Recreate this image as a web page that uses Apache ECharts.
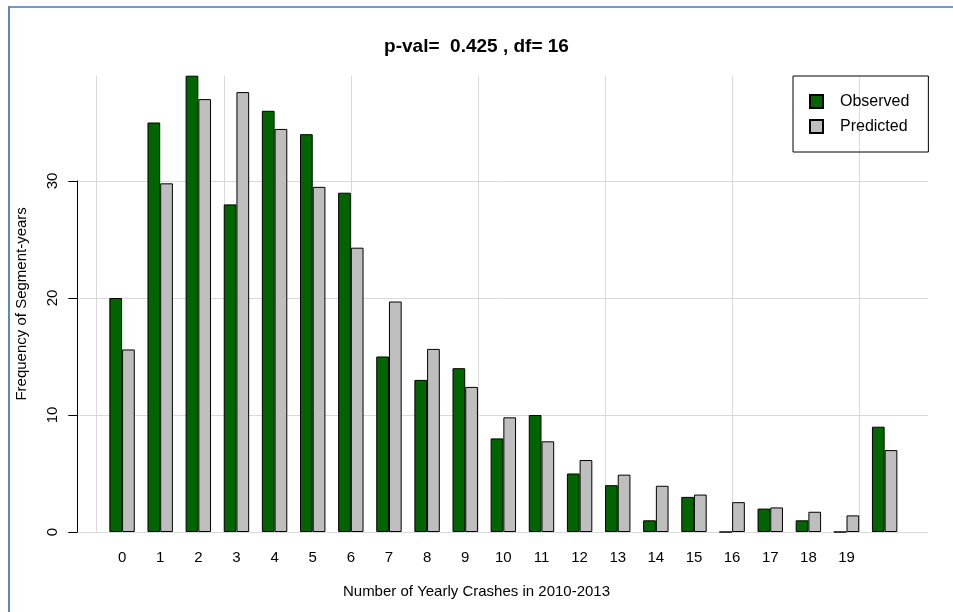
<!DOCTYPE html>
<html>
<head>
<meta charset="utf-8">
<script src="https://cdn.jsdelivr.net/npm/echarts@6/dist/echarts.min.js"></script>
<style>
html,body{margin:0;padding:0;background:#fff;}
#chart{width:953px;height:612px;}
</style>
</head>
<body>
<div id="chart"></div>
<script>
// ---- data ----
var categories = ['0','1','2','3','4','5','6','7','8','9','10','11','12','13','14','15','16','17','18','19',''];
var observed  = [20, 35, 39, 28, 36, 34, 29, 15, 13, 14, 8, 10, 5, 4, 1, 3, 0, 2, 1, 0, 9];
var predicted = [15.6, 29.8, 37.0, 37.6, 34.45, 29.5, 24.3, 19.7, 15.65, 12.4, 9.8, 7.75, 6.15, 4.9, 3.95, 3.2, 2.55, 2.1, 1.73, 1.42, 7.0];
var yTicks = [0, 10, 20, 30];
var titleText = 'p-val=  0.425 , df= 16';
var xTitle = 'Number of Yearly Crashes in 2010-2013';
var yTitle = 'Frequency of Segment-years';

var FONT = '"Liberation Sans", Arial, sans-serif';
var chart = echarts.init(document.getElementById('chart'), null, {renderer:'canvas'});
var gridColor = '#d9d9d9';
var option = {
  animation: false,
  backgroundColor: '#ffffff',
  textStyle: {fontFamily: FONT, color: '#000'},
  title: [
    {text: titleText, left: 'center', top: 32,
     textStyle: {fontFamily: FONT, fontSize: 19, fontWeight: 'bold', color: '#000'}},
    {text: xTitle, left: 'center', top: 579,
     textStyle: {fontFamily: FONT, fontSize: 15, fontWeight: 'normal', color: '#000'}}
  ],
  legend: {
    data: ['Observed', 'Predicted'],
    orient: 'vertical',
    left: 793, top: 76,
    padding: [17.5, 19, 17.5, 16],
    itemWidth: 13, itemHeight: 13, itemGap: 9,
    icon: 'rect',
    borderColor: '#000', borderWidth: 1,
    textStyle: {fontFamily: FONT, fontSize: 16, lineHeight: 16, color: '#000', padding: [0, 0, 0, 12]}
  },
  grid: [
    {left: 96.7, top: 75.7, width: 762.6, height: 456.3, outerBoundsMode: 'none'},
    {left: 77.3, top: 181, width: 850.7, height: 351, outerBoundsMode: 'none'},
    {left: 103.0, top: 75.7, width: 800.7, height: 456.3, outerBoundsMode: 'none'}
  ],
  xAxis: [
    {gridIndex: 0, type: 'value', min: 0, max: 60, interval: 10,
     axisLine: {show: false}, axisTick: {show: false}, axisLabel: {show: false},
     splitLine: {show: true, lineStyle: {color: gridColor, width: 1}}},
    {gridIndex: 1, type: 'value', min: 0, max: 1, show: false, splitLine: {show: false}},
    {gridIndex: 2, type: 'category', data: categories,
     axisLine: {show: false}, axisTick: {show: false}, splitLine: {show: false},
     axisLabel: {interval: 0, margin: 18, fontSize: 15, color: '#000', fontFamily: FONT}}
  ],
  yAxis: [
    {gridIndex: 0, type: 'value', min: 0, max: 39, show: false, splitLine: {show: false}},
    {gridIndex: 1, type: 'value', min: yTicks[0], max: yTicks[yTicks.length - 1], interval: 10,
     axisLine: {show: true, onZero: false, lineStyle: {color: '#000', width: 1}},
     axisTick: {show: true, length: 9, lineStyle: {color: '#000'}},
     axisLabel: {rotate: 90, margin: 17, fontSize: 15, color: '#000', fontFamily: FONT},
     splitLine: {show: true, lineStyle: {color: gridColor, width: 1}}},
    {gridIndex: 2, type: 'value', min: 0, max: 39,
     axisLine: {show: false}, axisTick: {show: false}, axisLabel: {show: false}, splitLine: {show: false},
     name: yTitle, nameLocation: 'middle', nameGap: 74, nameRotate: 90,
     nameTextStyle: {fontSize: 15, color: '#000', fontFamily: FONT}}
  ],
  series: [
    {name: 'Observed', type: 'bar', xAxisIndex: 2, yAxisIndex: 2, data: observed,
     barWidth: '33.333%', barGap: '0%',
     itemStyle: {color: '#006400', borderColor: '#000', borderWidth: 1}},
    {name: 'Predicted', type: 'bar', xAxisIndex: 2, yAxisIndex: 2, data: predicted,
     barWidth: '33.333%', barGap: '0%',
     itemStyle: {color: '#bebebe', borderColor: '#000', borderWidth: 1}}
  ],
  graphic: [
    {type: 'line', shape: {x1: 9, y1: 7, x2: 953, y2: 7}, style: {stroke: '#7199d0', lineWidth: 2}, silent: true},
    {type: 'line', shape: {x1: 9, y1: 6, x2: 9, y2: 612}, style: {stroke: '#5b86c4', lineWidth: 2}, silent: true}
  ]
};
chart.setOption(option);
</script>
</body>
</html>
